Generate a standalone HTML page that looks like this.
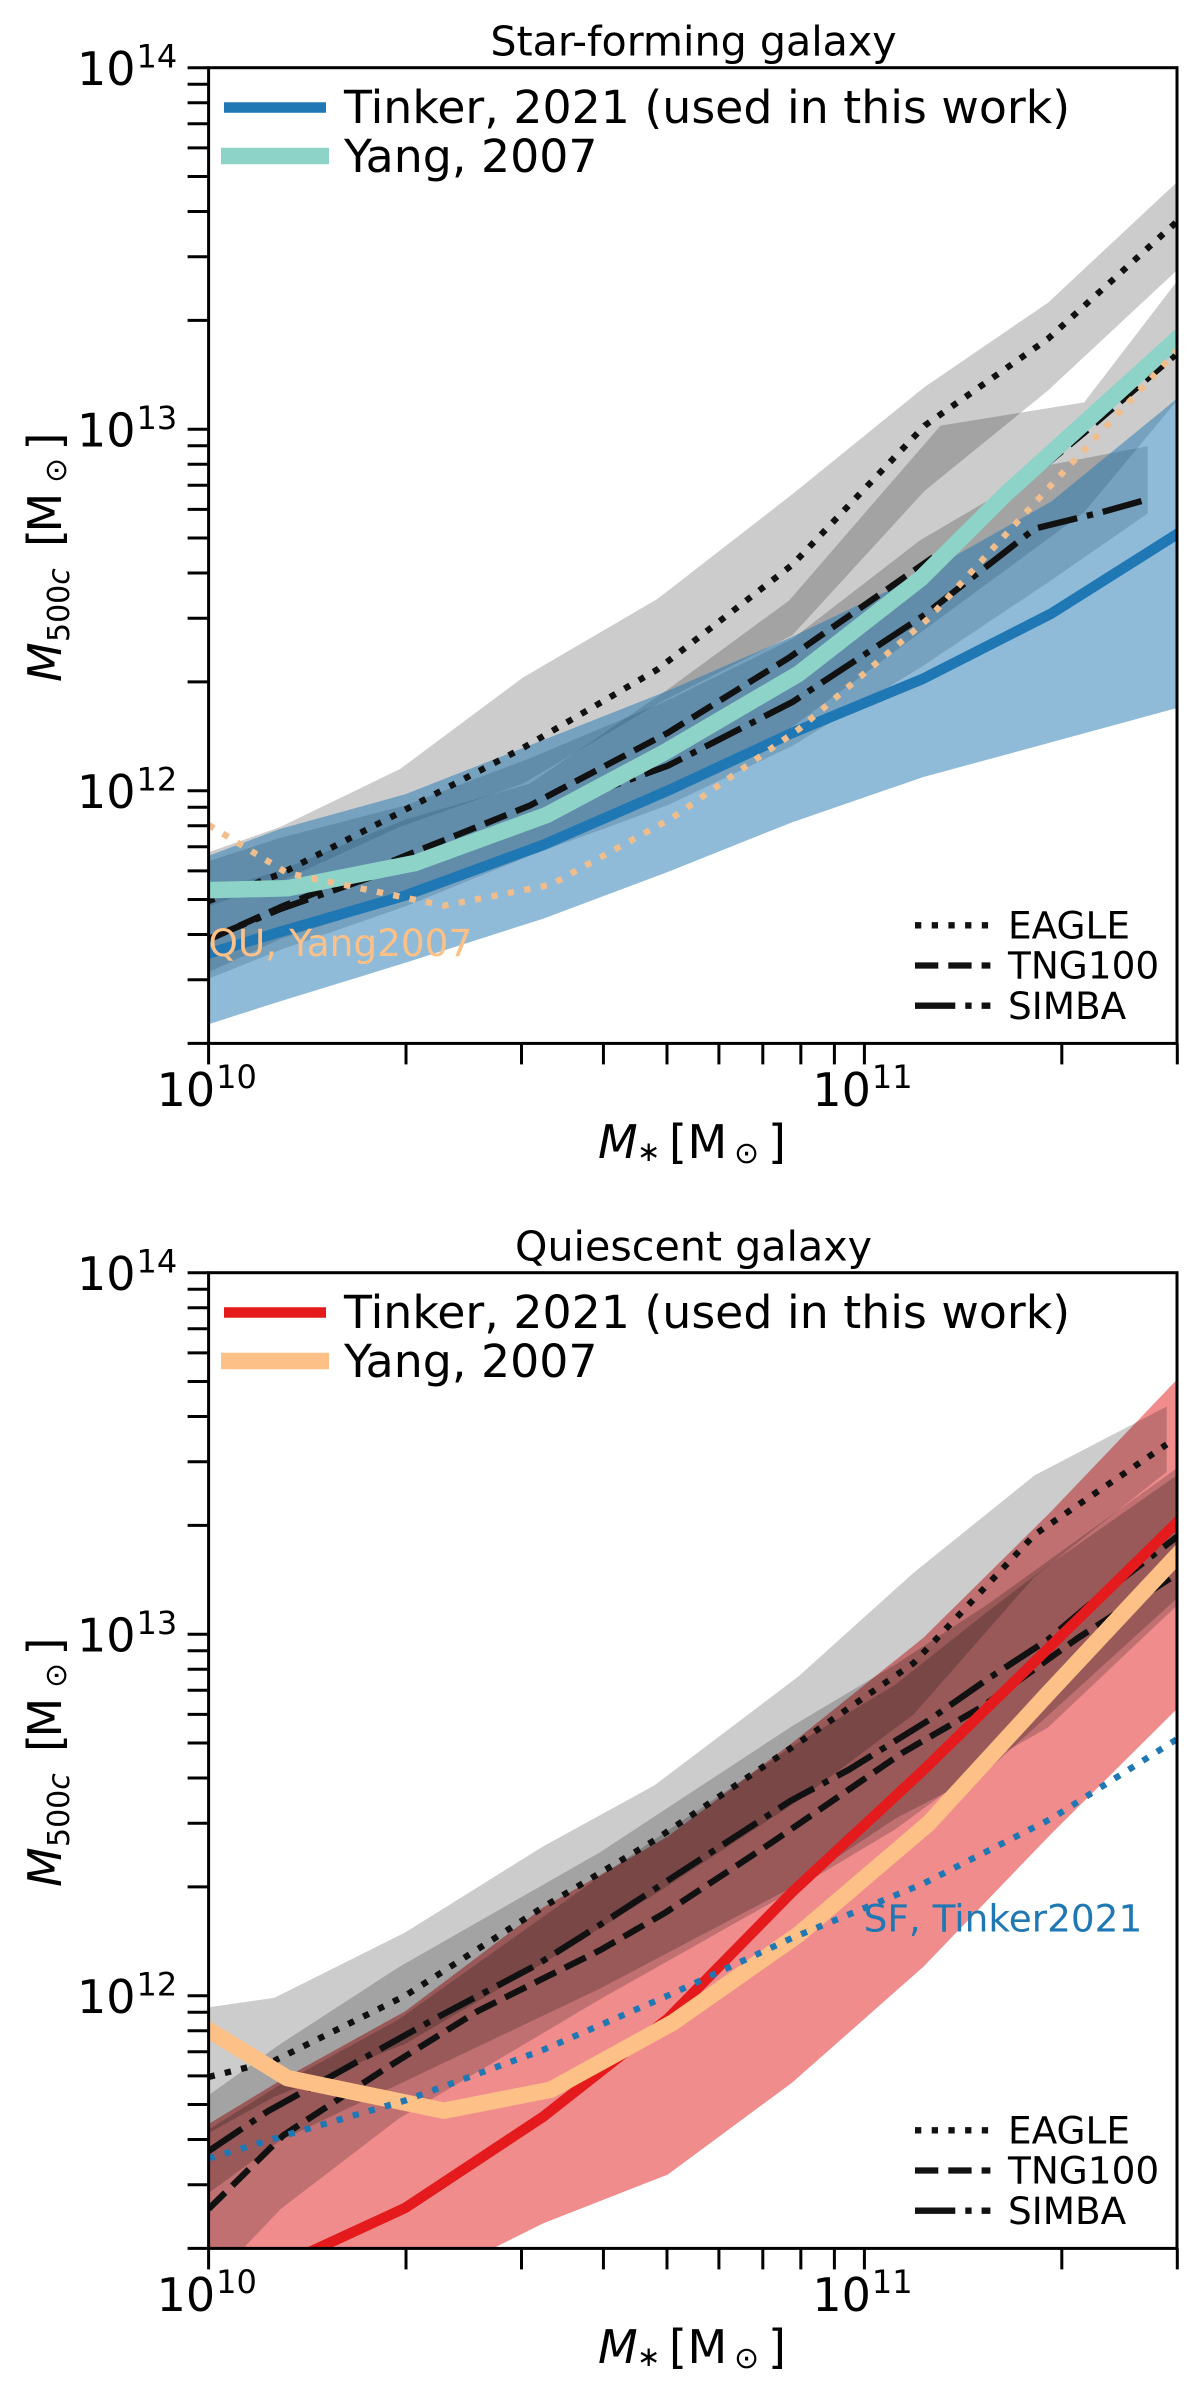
<!DOCTYPE html>
<html lang="en">
<head>
<meta charset="utf-8">
<title>Stellar mass to halo mass relation</title>
<style>
  html, body { margin: 0; padding: 0; background: #fff; }
  svg { display: block; }
  text { font-family: "DejaVu Sans", "Liberation Sans", sans-serif; fill: #000; }
  .it { font-style: italic; }
</style>
</head>
<body>
<svg id="figure" xmlns="http://www.w3.org/2000/svg" width="1200" height="2389" viewBox="0 0 1200 2389">
  <defs>
    <clipPath id="plot-clip"><rect x="208.6" y="67.7" width="968.4" height="975.7"/></clipPath>
  </defs>
  <rect x="0" y="0" width="1200" height="2389" fill="#fff"/>

  <g id="panel-sf">
    <g id="sf-marks" clip-path="url(#plot-clip)"></g>
    <g id="sf-axes"></g>
    <text x="693.5" y="55.5" font-size="41.2" text-anchor="middle">Star-forming galaxy</text>
    <text x="208.5" y="956" font-size="37.4" style="fill:#fdc086">QU, Yang2007</text>
    <line x1="224" y1="107.5" x2="326" y2="107.5" stroke="#1f77b4" stroke-width="10.5"/>
    <text x="344" y="123" font-size="45.8">Tinker, 2021 (used in this work)</text>
    <line x1="221" y1="156" x2="329" y2="156" stroke="#8dd3c7" stroke-width="16.5"/>
    <text x="344" y="172" font-size="45.8">Yang, 2007</text>
    <g>
      <line x1="915" y1="925.3" x2="990.4" y2="925.3" stroke="#111" stroke-width="6.3" stroke-dasharray="6.3 10.4"/>
      <text x="1008" y="938.7" font-size="37.4">EAGLE</text>
      <line x1="915" y1="965.5" x2="990.4" y2="965.5" stroke="#111" stroke-width="6.3" stroke-dasharray="23.3 10"/>
      <text x="1008" y="978.5" font-size="37.4">TNG100</text>
      <line x1="915" y1="1005.7" x2="990.4" y2="1005.7" stroke="#111" stroke-width="6.3" stroke-dasharray="40.3 10 6.3 10"/>
      <text x="1008" y="1019" font-size="37.4">SIMBA</text>
    </g>
    <g>
      <text class="it" x="598" y="1158" font-size="46">M</text>
      <text x="637" y="1161" font-size="28">∗</text>
      <text x="669" y="1158" font-size="46">[</text>
      <text x="687.5" y="1158" font-size="46">M</text>
      <text x="734" y="1163" font-size="30">⊙</text>
      <text x="768" y="1158" font-size="46">]</text>
    </g>
    <g transform="translate(61,680) rotate(-90)">
      <text class="it" x="-2" y="0" font-size="46">M</text>
      <text x="38" y="8" font-size="30">500<tspan class="it">c</tspan></text>
      <text x="133" y="0" font-size="46">[</text>
      <text x="147.5" y="0" font-size="46">M</text>
      <text x="197" y="5" font-size="30">⊙</text>
      <text x="229.5" y="0" font-size="46">]</text>
    </g>
  </g>

  <g id="panel-qu" transform="translate(0,1205)">
    <g id="qu-marks" clip-path="url(#plot-clip)"></g>
    <g id="qu-axes"></g>
    <text x="693.5" y="55.5" font-size="41.2" text-anchor="middle">Quiescent galaxy</text>
    <text x="863.6" y="726.4" font-size="37.4" style="fill:#1f77b4">SF, Tinker2021</text>
    <line x1="224" y1="107.5" x2="326" y2="107.5" stroke="#e41a1c" stroke-width="10.5"/>
    <text x="344" y="123" font-size="45.8">Tinker, 2021 (used in this work)</text>
    <line x1="221" y1="156" x2="329" y2="156" stroke="#fdc086" stroke-width="16.5"/>
    <text x="344" y="172" font-size="45.8">Yang, 2007</text>
    <g>
      <line x1="915" y1="925.3" x2="990.4" y2="925.3" stroke="#111" stroke-width="6.3" stroke-dasharray="6.3 10.4"/>
      <text x="1008" y="938.7" font-size="37.4">EAGLE</text>
      <line x1="915" y1="965.5" x2="990.4" y2="965.5" stroke="#111" stroke-width="6.3" stroke-dasharray="23.3 10"/>
      <text x="1008" y="978.5" font-size="37.4">TNG100</text>
      <line x1="915" y1="1005.7" x2="990.4" y2="1005.7" stroke="#111" stroke-width="6.3" stroke-dasharray="40.3 10 6.3 10"/>
      <text x="1008" y="1019" font-size="37.4">SIMBA</text>
    </g>
    <g>
      <text class="it" x="598" y="1158" font-size="46">M</text>
      <text x="637" y="1161" font-size="28">∗</text>
      <text x="669" y="1158" font-size="46">[</text>
      <text x="687.5" y="1158" font-size="46">M</text>
      <text x="734" y="1163" font-size="30">⊙</text>
      <text x="768" y="1158" font-size="46">]</text>
    </g>
    <g transform="translate(61,680) rotate(-90)">
      <text class="it" x="-2" y="0" font-size="46">M</text>
      <text x="38" y="8" font-size="30">500<tspan class="it">c</tspan></text>
      <text x="133" y="0" font-size="46">[</text>
      <text x="147.5" y="0" font-size="46">M</text>
      <text x="197" y="5" font-size="30">⊙</text>
      <text x="229.5" y="0" font-size="46">]</text>
    </g>
  </g>
</svg>

<script>
// All masses are log10(M / Msun).

// Axis tick data
const xMajorExponents = [10, 11];
const yMajorExponents = [14, 13, 12];
const xMinorValues = [2e10, 3e10, 4e10, 5e10, 6e10, 7e10, 8e10, 9e10, 2e11, 3e11];
const yMinorValues = [2e11, 3e11, 4e11, 5e11, 6e11, 7e11, 8e11, 9e11,
                      2e12, 3e12, 4e12, 5e12, 6e12, 7e12, 8e12, 9e12,
                      2e13, 3e13, 4e13, 5e13, 6e13, 7e13, 8e13, 9e13];

// Tinker 2021 (shared stellar-mass bins)
const tinkerMstar = [10, 10.11, 10.30, 10.51, 10.70, 10.89, 11.09, 11.285, 11.477];
const tinkerSfMedian = [11.55, 11.61, 11.71, 11.85, 12.0, 12.16, 12.31, 12.49, 12.71];
const tinkerSfUpper = [11.82, 11.895, 11.99, 12.14, 12.276, 12.426, 12.6, 12.8, 13.085];
const tinkerSfLower = [11.354, 11.418, 11.524, 11.646, 11.775, 11.913, 12.038, 12.134, 12.229];
const tinkerQuMedian = [11.16, 11.254, 11.413, 11.665, 11.936, 12.287, 12.624, 12.969, 13.31];
const tinkerQuUpper = [11.645, 11.766, 11.957, 12.244, 12.44, 12.70, 12.99, 13.34, 13.705];
const tinkerQuLower = [10.9, 11.0, 11.18, 11.37, 11.505, 11.76, 12.08, 12.448, 12.794];

// Yang 2007
const yangSfMstar = [10, 10.12, 10.315, 10.516, 10.696, 10.90, 11.086, 11.215, 11.477];
const yangSfMedian = [11.725, 11.73, 11.80, 11.933, 12.107, 12.324, 12.587, 12.82, 13.25];
const yangQuMstar = [10, 10.12, 10.359, 10.522, 10.708, 10.90, 11.098, 11.28, 11.477];
const yangQuMedian = [11.905, 11.772, 11.682, 11.74, 11.926, 12.17, 12.477, 12.836, 13.218];

// Star-forming simulations
const sfEagleMstar = [10, 10.11, 10.292, 10.48, 10.684, 10.89, 11.092, 11.28, 11.477];
const sfEagleUpper = [11.83, 11.90, 12.06, 12.314, 12.53, 12.82, 13.117, 13.35, 13.684];
const sfEagleLower = [11.68, 11.75, 11.90, 12.02, 12.24, 12.43, 12.83, 13.107, 13.44];
const sfEagleMedian = [11.695, 11.77, 11.94, 12.119, 12.335, 12.625, 13.01, 13.25, 13.575];

const sfTngMstar = [10, 10.11, 10.30, 10.49, 10.70, 10.885, 11.116, 11.335, 11.477];
const sfTngUpper = [11.72, 11.78, 11.92, 12.02, 12.28, 12.526, 13.01, 13.074, 13.41];
const sfTngLower = [11.498, 11.59, 11.70, 11.837, 11.985, 12.17, 12.478, 12.77, 13.08];
const sfTngMedian = [11.588, 11.678, 11.82, 11.959, 12.16, 12.368, 12.66, 12.99, 13.21];

const sfSimbaBandMstar = [10, 10.11, 10.30, 10.49, 10.70, 10.89, 11.085, 11.28, 11.432];
const sfSimbaUpper = [11.805, 11.87, 11.959, 12.09, 12.25, 12.42, 12.693, 12.9, 12.953];
const sfSimbaLower = [11.48, 11.56, 11.68, 11.82, 11.96, 12.124, 12.34, 12.576, 12.767];
const sfSimbaLineMstar = [10, 10.11, 10.30, 10.49, 10.70, 10.89, 11.09, 11.26, 11.365, 11.432];
const sfSimbaMedian = [11.59, 11.673, 11.794, 11.93, 12.069, 12.245, 12.484, 12.725, 12.772, 12.806];

// Quiescent simulations
const quEagleMstar = [10, 10.10, 10.30, 10.51, 10.68, 10.90, 11.075, 11.26, 11.461];
const quEagleUpper = [11.968, 11.994, 12.175, 12.413, 12.582, 12.884, 13.17, 13.44, 13.63];
const quEagleLower = [11.62, 11.72, 11.867, 12.09, 12.28, 12.54, 12.778, 13.16, 13.449];
const quEagleMedian = [11.775, 11.82, 12.0, 12.245, 12.43, 12.70, 12.92, 13.276, 13.525];

const quTngBandMstar = [10, 10.11, 10.29, 10.597, 10.89, 11.047, 11.186, 11.28, 11.477];
const quTngUpper = [11.63, 11.755, 11.935, 12.33, 12.69, 12.86, 13.06, 13.19, 13.44];
const quTngLower = [11.2, 11.41, 11.66, 11.99, 12.29, 12.46, 12.645, 12.742, 13.08];
const quTngLineMstar = [10, 10.114, 10.271, 10.411, 10.597, 10.696, 10.859, 11.058, 11.18, 11.326, 11.466];
const quTngMedian = [11.41, 11.614, 11.80, 11.958, 12.126, 12.229, 12.424, 12.672, 12.8, 12.99, 13.154];

const quSimbaBandMstar = [10, 10.11, 10.29, 10.597, 10.89, 11.047, 11.186, 11.477];
const quSimbaUpper = [11.725, 11.867, 12.079, 12.397, 12.746, 12.916, 13.08, 13.46];
const quSimbaLower = [11.454, 11.60, 11.755, 12.02, 12.30, 12.49, 12.62, 13.10];
const quSimbaLineMstar = [10, 10.09, 10.353, 10.50, 10.597, 10.713, 10.888, 10.976, 11.098, 11.191, 11.28, 11.355, 11.477];
const quSimbaMedian = [11.57, 11.68, 11.944, 12.085, 12.196, 12.334, 12.54, 12.625, 12.762, 12.88, 12.985, 13.10, 13.27];

// Axis functions (panel-local pixels)
const AX = { left: 208.6, right: 1177, top: 67.7, bottom: 1043.4 };
function xScale(logMstar) { return AX.left + (logMstar - 10) * 655.8; }
function yScale(logMhalo) { return AX.top + (14 - logMhalo) * 361.5; }

const SVG_NS = 'http://www.w3.org/2000/svg';
const DOTTED = '6.3 10.4';
const DASHED = '23.3 10';
const DASHDOT = '40.3 10 6.3 10';

function pointsOf(xs, ys) {
  return xs.map(function (x, i) { return xScale(x).toFixed(1) + ',' + yScale(ys[i]).toFixed(1); });
}

function drawBand(parent, name, xs, upper, lower, fill, opacity) {
  const el = document.createElementNS(SVG_NS, 'path');
  
  
  const top = pointsOf(xs, upper);
  const bottom = pointsOf(xs, lower).reverse();
  el.setAttribute('d', 'M' + top.concat(bottom).join('L') + 'Z');
  el.setAttribute('fill', fill);
  el.setAttribute('fill-opacity', opacity);
  parent.appendChild(el);
}

function drawLine(parent, name, xs, ys, stroke, width, dash) {
  const el = document.createElementNS(SVG_NS, 'path');
  
  
  el.setAttribute('d', 'M' + pointsOf(xs, ys).join('L'));
  el.setAttribute('fill', 'none');
  el.setAttribute('stroke', stroke);
  el.setAttribute('stroke-width', width);
  el.setAttribute('stroke-linejoin', 'round');
  if (dash) {
    el.setAttribute('stroke-dasharray', dash);
  } else {
    el.setAttribute('stroke-linecap', 'square');
  }
  parent.appendChild(el);
}

function drawTick(parent, name, x1, y1, x2, y2) {
  const el = document.createElementNS(SVG_NS, 'line');
  
  
  el.setAttribute('x1', x1);
  el.setAttribute('y1', y1);
  el.setAttribute('x2', x2);
  el.setAttribute('y2', y2);
  el.setAttribute('stroke', '#000');
  el.setAttribute('stroke-width', 3);
  parent.appendChild(el);
}

function drawLabel(parent, name, x, y, size, content) {
  const el = document.createElementNS(SVG_NS, 'text');
  
  
  el.setAttribute('x', x);
  el.setAttribute('y', y);
  el.setAttribute('font-size', size);
  el.textContent = content;
  parent.appendChild(el);
}

function drawAxes(parent) {
  const frame = document.createElementNS(SVG_NS, 'rect');
  
  
  frame.setAttribute('x', AX.left);
  frame.setAttribute('y', AX.top);
  frame.setAttribute('width', AX.right - AX.left);
  frame.setAttribute('height', AX.bottom - AX.top);
  frame.setAttribute('fill', 'none');
  frame.setAttribute('stroke', '#000');
  frame.setAttribute('stroke-width', 3);
  parent.appendChild(frame);

  yMinorValues.forEach(function (v) {
    const y = yScale(Math.log10(v));
    drawTick(parent, 'y-minor-tick', AX.left - 21, y, AX.left, y);
  });
  yMajorExponents.forEach(function (e) {
    const y = yScale(e);
    drawTick(parent, 'y-major-tick', AX.left - 21, y, AX.left, y);
    drawLabel(parent, 'y-tick-label-base', 77, y + 17.3, 46, '10');
    drawLabel(parent, 'y-tick-label-exponent', 136.5, y, 32, String(e));
  });
  xMinorValues.forEach(function (v) {
    const x = xScale(Math.log10(v));
    drawTick(parent, 'x-minor-tick', x, AX.bottom, x, AX.bottom + 21);
  });
  xMajorExponents.forEach(function (e) {
    const x = xScale(e);
    drawTick(parent, 'x-major-tick', x, AX.bottom, x, AX.bottom + 21);
    drawLabel(parent, 'x-tick-label-base', x - 52, AX.bottom + 62.5, 46, '10');
    drawLabel(parent, 'x-tick-label-exponent', x + 7.5, AX.bottom + 44.5, 32, String(e));
  });
}

// Star-forming panel: the blue band sits above the grey simulation bands
const sfMarks = document.getElementById('sf-marks');
drawBand(sfMarks, 'band-eagle-sf', sfEagleMstar, sfEagleUpper, sfEagleLower, '#000', 0.2);
drawBand(sfMarks, 'band-tng100-sf', sfTngMstar, sfTngUpper, sfTngLower, '#000', 0.2);
drawBand(sfMarks, 'band-simba-sf', sfSimbaBandMstar, sfSimbaUpper, sfSimbaLower, '#000', 0.2);
drawBand(sfMarks, 'band-tinker-sf', tinkerMstar, tinkerSfUpper, tinkerSfLower, '#1f77b4', 0.5);
drawLine(sfMarks, 'line-eagle-sf', sfEagleMstar, sfEagleMedian, '#111', 6.3, DOTTED);
drawLine(sfMarks, 'line-tng100-sf', sfTngMstar, sfTngMedian, '#111', 6.3, DASHED);
drawLine(sfMarks, 'line-simba-sf', sfSimbaLineMstar, sfSimbaMedian, '#111', 6.3, DASHDOT);
drawLine(sfMarks, 'line-tinker-sf', tinkerMstar, tinkerSfMedian, '#1f77b4', 10.5);
drawLine(sfMarks, 'line-yang-sf', yangSfMstar, yangSfMedian, '#8dd3c7', 16.5);
drawLine(sfMarks, 'line-yang-qu-reference', yangQuMstar, yangQuMedian, '#f0bd8c', 6.3, DOTTED);
drawAxes(document.getElementById('sf-axes'));

// Quiescent panel: the grey simulation bands sit above the red band
const quMarks = document.getElementById('qu-marks');
drawBand(quMarks, 'band-tinker-qu', tinkerMstar, tinkerQuUpper, tinkerQuLower, '#e41a1c', 0.5);
drawBand(quMarks, 'band-eagle-qu', quEagleMstar, quEagleUpper, quEagleLower, '#000', 0.2);
drawBand(quMarks, 'band-tng100-qu', quTngBandMstar, quTngUpper, quTngLower, '#000', 0.2);
drawBand(quMarks, 'band-simba-qu', quSimbaBandMstar, quSimbaUpper, quSimbaLower, '#000', 0.2);
drawLine(quMarks, 'line-eagle-qu', quEagleMstar, quEagleMedian, '#111', 6.3, DOTTED);
drawLine(quMarks, 'line-tng100-qu', quTngLineMstar, quTngMedian, '#111', 6.3, DASHED);
drawLine(quMarks, 'line-simba-qu', quSimbaLineMstar, quSimbaMedian, '#111', 6.3, DASHDOT);
drawLine(quMarks, 'line-tinker-qu', tinkerMstar, tinkerQuMedian, '#e41a1c', 10.5);
drawLine(quMarks, 'line-yang-qu', yangQuMstar, yangQuMedian, '#fdc086', 16.5);
drawLine(quMarks, 'line-tinker-sf-reference', tinkerMstar, tinkerSfMedian, '#1f77b4', 6.3, DOTTED);
drawAxes(document.getElementById('qu-axes'));
</script>
</body>
</html>
